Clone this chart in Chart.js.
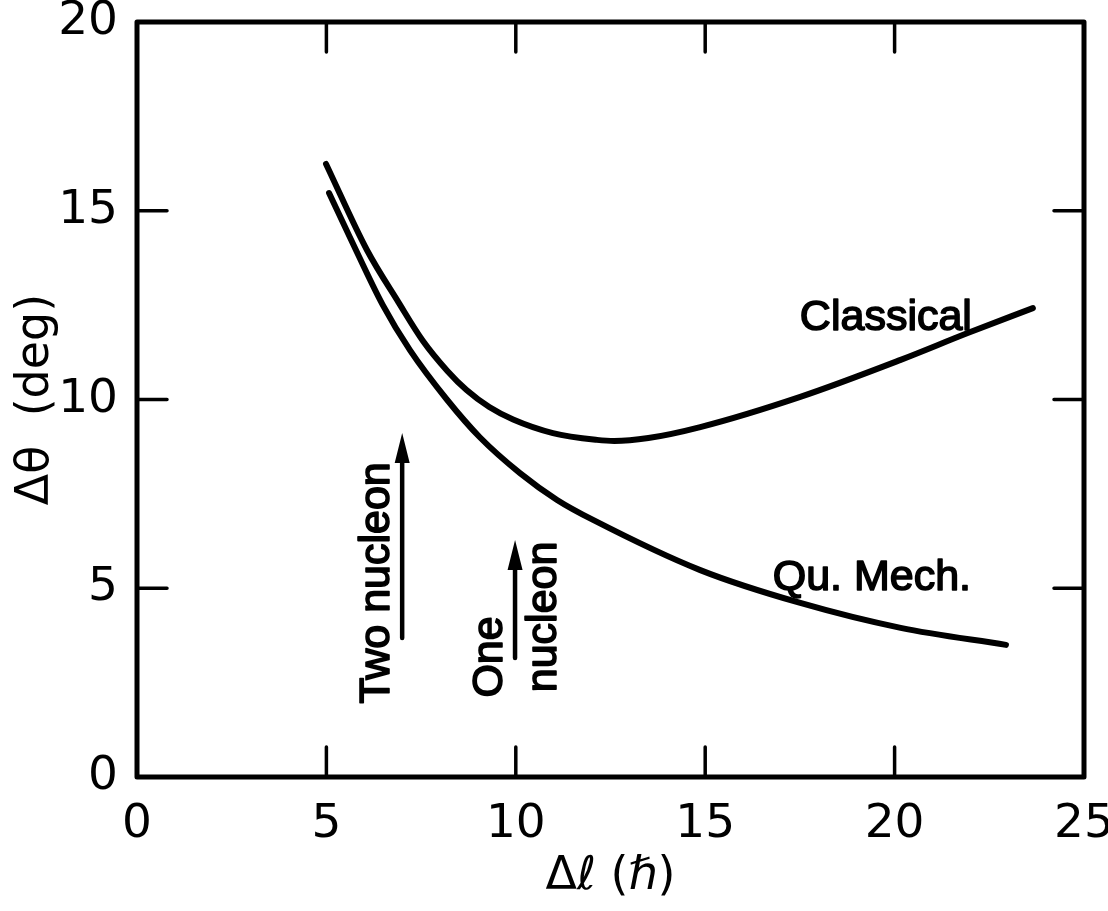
<!DOCTYPE html>
<html>
<head>
<meta charset="utf-8">
<script src="https://cdn.jsdelivr.net/npm/chart.js@4/dist/chart.umd.min.js"></script>
<style>
  html, body { margin: 0; padding: 0; background: #fff; }
  #wrap { width: 1108px; height: 911px; }
</style>
</head>
<body>
<div id="wrap"><canvas id="angleChart" width="1108" height="911"></canvas></div>
<script>
// Δθ vs Δℓ, classical and quantum mechanical estimates
var classicalL   = [4.99, 6.07, 6.9, 7.55, 8.2, 8.7, 9.3, 9.93, 10.98, 12.14, 12.6, 13.5, 14.87, 17.51, 20.16, 21.93, 23.65];
var classicalDeg = [16.24, 13.96, 12.58, 11.55, 10.75, 10.25, 9.8, 9.47, 9.11, 8.93, 8.90, 8.98, 9.27, 10.07, 11.05, 11.76, 12.42];

var quMechL   = [5.07, 5.62, 6.49, 7.21, 8.18, 9.05, 10.11, 11.09, 12.04, 14.87, 17.51, 20.16, 22.94];
var quMechDeg = [15.47, 14.3, 12.5, 11.3, 10.0, 9.0, 8.05, 7.34, 6.81, 5.48, 4.61, 3.95, 3.50];

var xTicks = [0, 5, 10, 15, 20, 25];
var yTicks = [0, 5, 10, 15, 20];

// vertical arrows: Δℓ position, tail and tip in degrees
var arrowL    = [7.0, 9.98];
var arrowFrom = [3.68, 3.15];
var arrowTo   = [9.11, 6.28];

// labels on the curves
var curveLabelText = ['Classical', 'Qu. Mech.'];
var curveLabelL    = [19.77, 19.40];
var curveLabelDeg  = [12.16, 5.27];

// rotated labels beside the arrows
var arrowLabelText = ['Two nucleon', 'One', 'nucleon'];
var arrowLabelL    = [6.34, 9.33, 10.74];
var arrowLabelDeg  = [5.14, 3.18, 4.24];

function toPoints(xs, ys) {
  var pts = [];
  for (var i = 0; i < xs.length; i++) pts.push({x: xs[i], y: ys[i]});
  return pts;
}

// keep tick labels from pushing the plot area inwards
function noOverhang(scale) {
  scale.paddingLeft = 0;
  scale.paddingRight = 0;
  scale.paddingTop = 0;
  scale.paddingBottom = 0;
}

var INK = '#000';

// frame with inward ticks, arrows and text labels
var decorations = {
  id: 'decorations',
  afterDatasetsDraw: function(chart) {
    var ctx = chart.ctx;
    var a = chart.chartArea;
    var xs = chart.scales.x, ys = chart.scales.y;
    var tickLen = 30;

    ctx.save();
    ctx.strokeStyle = INK;
    ctx.fillStyle = INK;
    ctx.lineCap = 'round';

    // inner ticks
    ctx.lineWidth = 3.5;
    ctx.beginPath();
    xTicks.slice(1, -1).forEach(function(v) {
      var px = xs.getPixelForValue(v);
      ctx.moveTo(px, a.bottom); ctx.lineTo(px, a.bottom - tickLen);
      ctx.moveTo(px, a.top);    ctx.lineTo(px, a.top + tickLen);
    });
    yTicks.slice(1, -1).forEach(function(v) {
      var py = ys.getPixelForValue(v);
      ctx.moveTo(a.left, py);  ctx.lineTo(a.left + tickLen, py);
      ctx.moveTo(a.right, py); ctx.lineTo(a.right - tickLen, py);
    });
    ctx.stroke();

    // frame
    ctx.lineWidth = 5;
    ctx.lineJoin = 'round';
    ctx.strokeRect(a.left, a.top, a.right - a.left, a.bottom - a.top);

    // arrows
    for (var i = 0; i < arrowL.length; i++) {
      var ax = xs.getPixelForValue(arrowL[i]);
      var y0 = ys.getPixelForValue(arrowFrom[i]);
      var y1 = ys.getPixelForValue(arrowTo[i]);
      ctx.lineWidth = 4.5;
      ctx.beginPath();
      ctx.moveTo(ax, y0);
      ctx.lineTo(ax, y1 + 20);
      ctx.stroke();
      ctx.beginPath();
      ctx.moveTo(ax, y1);
      ctx.lineTo(ax - 7.5, y1 + 30);
      ctx.lineTo(ax + 7.5, y1 + 30);
      ctx.closePath();
      ctx.fill();
    }

    ctx.textAlign = 'center';
    ctx.textBaseline = 'middle';
    ctx.font = '43px "Liberation Sans", Arial, sans-serif';
    ctx.lineWidth = 1.6;
    ctx.lineCap = 'butt';

    for (var j = 0; j < curveLabelText.length; j++) {
      var lx = xs.getPixelForValue(curveLabelL[j]);
      var ly = ys.getPixelForValue(curveLabelDeg[j]);
      ctx.fillText(curveLabelText[j], lx, ly);
      ctx.strokeText(curveLabelText[j], lx, ly);
    }

    for (var k = 0; k < arrowLabelText.length; k++) {
      var tx = xs.getPixelForValue(arrowLabelL[k]);
      var ty = ys.getPixelForValue(arrowLabelDeg[k]);
      ctx.save();
      ctx.translate(tx, ty);
      ctx.rotate(-Math.PI / 2);
      ctx.fillText(arrowLabelText[k], 0, 0);
      ctx.strokeText(arrowLabelText[k], 0, 0);
      ctx.restore();
    }
    ctx.restore();
  }
};

var lineStyle = {
  borderColor: INK,
  borderWidth: 6,
  borderCapStyle: 'round',
  borderJoinStyle: 'round',
  pointRadius: 0,
  fill: false,
  cubicInterpolationMode: 'monotone'
};

var ctx = document.getElementById('angleChart');

var angleChart = new Chart(ctx, {
  type: 'line',
  data: {
    datasets: [
      Object.assign({ label: 'Classical', data: toPoints(classicalL, classicalDeg) }, lineStyle),
      Object.assign({ label: 'Qu. Mech.', data: toPoints(quMechL, quMechDeg) }, lineStyle)
    ]
  },
  options: {
    responsive: false,
    animation: false,
    layout: { padding: { top: 22, right: 24, left: 0, bottom: 0 } },
    plugins: {
      legend: { display: false },
      tooltip: { enabled: false }
    },
    scales: {
      x: {
        type: 'linear',
        min: 0,
        max: 25,
        grid: { display: false, drawTicks: false },
        border: { display: false },
        afterBuildTicks: function(scale) {
          scale.ticks = xTicks.map(function(v) { return { value: v }; });
        },
        afterFit: function(scale) {
          scale.height = 134;
          noOverhang(scale);
        },
        ticks: {
          color: INK,
          padding: 20,
          maxRotation: 0,
          font: { family: '"DejaVu Sans", sans-serif', size: 47 }
        },
        title: {
          display: true,
          text: 'Δℓ (ℏ)',
          color: INK,
          padding: { top: 0, bottom: 6 },
          font: { family: '"DejaVu Sans", sans-serif', size: 46 }
        }
      },
      y: {
        type: 'linear',
        min: 0,
        max: 20,
        grid: { display: false, drawTicks: false },
        border: { display: false },
        afterBuildTicks: function(scale) {
          scale.ticks = yTicks.map(function(v) { return { value: v }; });
        },
        afterFit: function(scale) {
          scale.width = 137;
          noOverhang(scale);
        },
        ticks: {
          color: INK,
          padding: 19,
          font: { family: '"DejaVu Sans", sans-serif', size: 47 }
        },
        title: {
          display: true,
          text: 'Δθ  (deg)',
          color: INK,
          padding: { top: 8, bottom: 0 },
          font: { family: '"DejaVu Sans", sans-serif', size: 46 }
        }
      }
    }
  },
  plugins: [decorations]
});
</script>
</body>
</html>
